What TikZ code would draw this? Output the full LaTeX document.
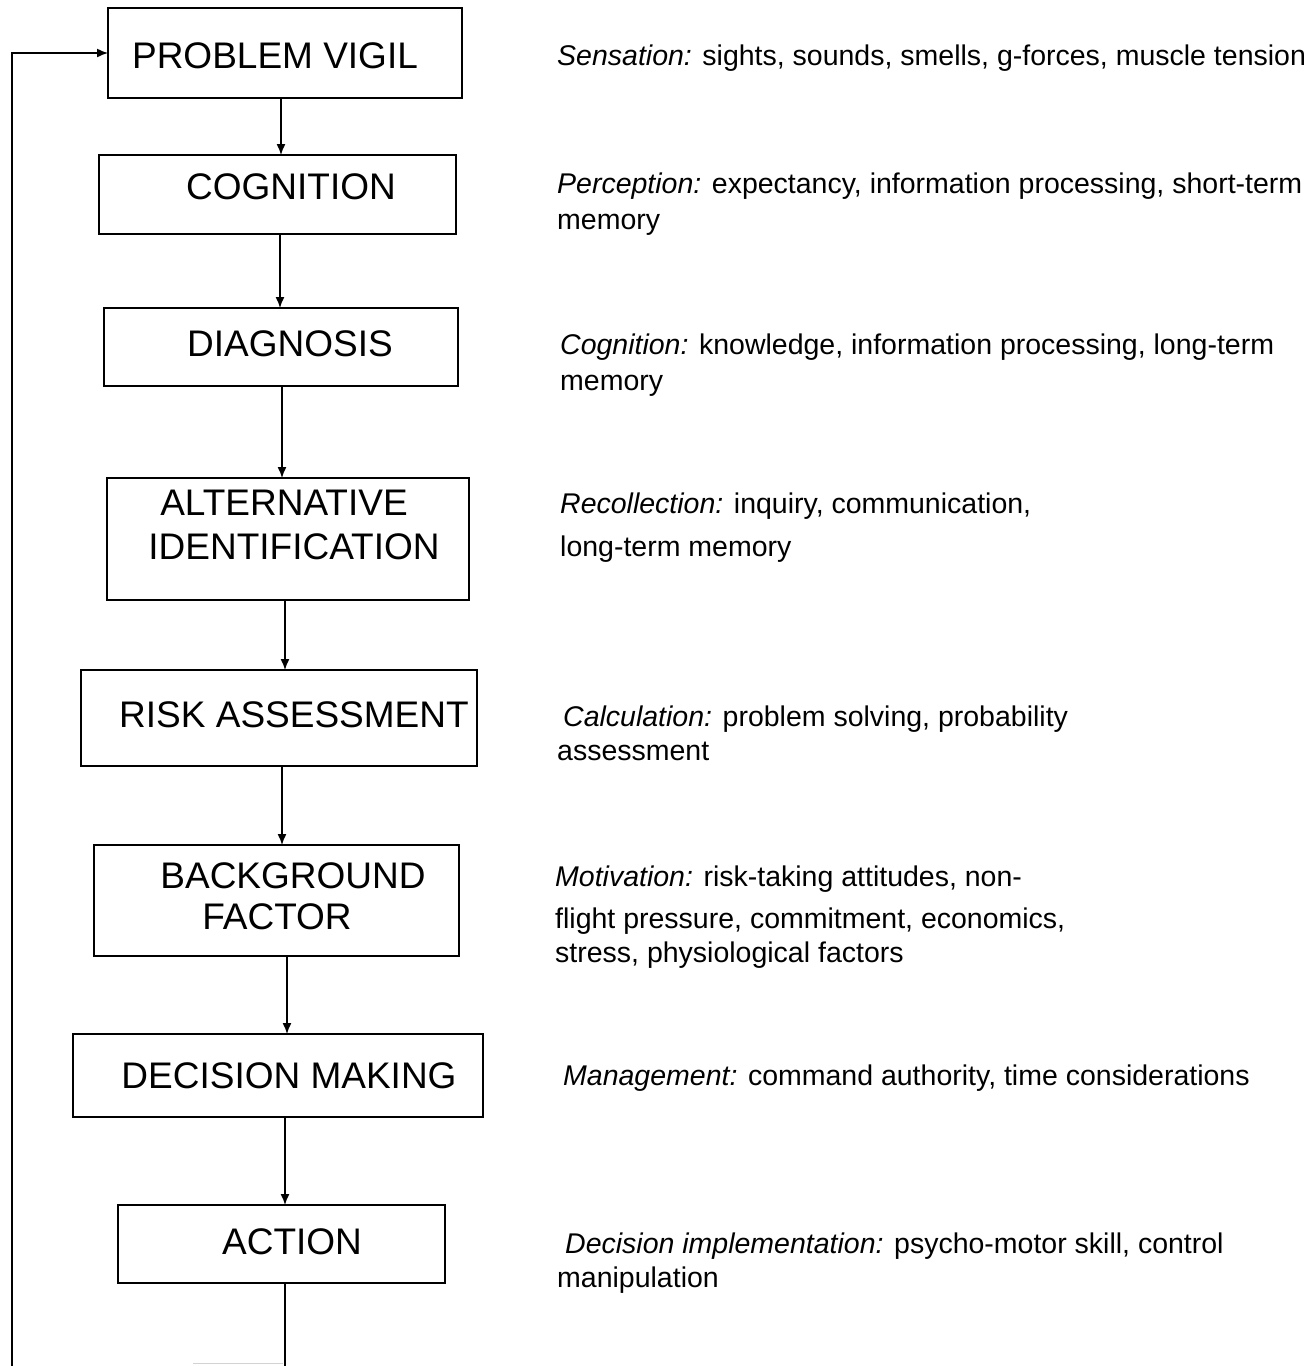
\documentclass[tikz,border=0pt]{standalone}
\usepackage{fontspec}
\setmainfont{Liberation Sans}
\usetikzlibrary{arrows.meta}
\tikzset{
  box/.style={draw, line width=1.6pt, inner sep=0pt, outer sep=0pt},
  boxtext/.style={font=\fontsize{37}{40}\selectfont, anchor=base, inner sep=0pt},
  desc/.style={font=\fontsize{28.5}{32}\selectfont, anchor=base west, inner sep=0pt},
  arr/.style={line width=1.4pt, -{Latex[length=11pt,width=9pt]}},
  plain/.style={line width=1.4pt}
}
\begin{document}
\begin{tikzpicture}[x=1pt,y=-1pt]
\useasboundingbox (0,0) rectangle (1315,1366);
% boxes
\node[box, minimum width=354pt, minimum height=90pt] (pv) at (285,53) {};
\node[box, minimum width=357pt, minimum height=79pt] (cog) at (277.5,194.5) {};
\node[box, minimum width=354pt, minimum height=78pt] (diag) at (281,347) {};
\node[box, minimum width=362pt, minimum height=122pt] (alt) at (288,539) {};
\node[box, minimum width=396pt, minimum height=96pt] (risk) at (279,718) {};
\node[box, minimum width=365pt, minimum height=111pt] (bg) at (276.5,900.5) {};
\node[box, minimum width=410pt, minimum height=83pt] (dec) at (278,1075.5) {};
\node[box, minimum width=327pt, minimum height=78pt] (act) at (281.5,1244) {};
% box labels
\node[boxtext] (tpv) at (275,68) {PROBLEM VIGIL};
\node[boxtext] (tcog) at (291,199) {COGNITION};
\node[boxtext] (tdiag) at (290,356) {DIAGNOSIS};
\node[boxtext] (talt1) at (284,515) {ALTERNATIVE};
\node[boxtext] (talt2) at (294,559) {IDENTIFICATION};
\node[boxtext] (trisk) at (294,727) {RISK ASSESSMENT};
\node[boxtext] (tbg1) at (293,888) {BACKGROUND};
\node[boxtext] (tbg2) at (277,929) {FACTOR};
\node[boxtext] (tdec) at (289,1088) {DECISION MAKING};
\node[boxtext] (tact) at (292,1254) {ACTION};
% connectors
\draw[arr] (pv.south -| 281,0) -- (cog.north -| 281,0);
\draw[arr] (cog.south -| 280,0) -- (diag.north -| 280,0);
\draw[arr] (diag.south -| 282,0) -- (alt.north -| 282,0);
\draw[arr] (alt.south -| 285,0) -- (risk.north -| 285,0);
\draw[arr] (risk.south -| 282,0) -- (bg.north -| 282,0);
\draw[arr] (bg.south -| 287,0) -- (dec.north -| 287,0);
\draw[arr] (dec.south -| 285,0) -- (act.north -| 285,0);
\coordinate (actout) at (285,1366);
\draw[plain] (act.south -| actout) -- (actout);
\coordinate (fb) at (12,1366);
\draw[arr] (fb) |- (pv.west);
\coordinate (nb1) at (193,1363);
\coordinate (nb2) at (283,1363);
\draw[gray!35, line width=1pt] (nb1) -- (nb2);
% descriptions
\node[desc] (d1) at (557,65) {{\itshape Sensation:} sights, sounds, smells, g-forces, muscle tension};
\node[desc] (d2a) at (557,193) {{\itshape Perception:} expectancy, information processing, short-term};
\node[desc] (d2b) at (557,229) {memory};
\node[desc] (d3a) at (560,354) {{\itshape Cognition:} knowledge, information processing, long-term};
\node[desc] (d3b) at (560,390) {memory};
\node[desc] (d4a) at (560,513) {{\itshape Recollection:} inquiry, communication,};
\node[desc] (d4b) at (560,556) {long-term memory};
\node[desc] (d5a) at (563,726) {{\itshape Calculation:} problem solving, probability};
\node[desc] (d5b) at (557,760) {assessment};
\node[desc] (d6a) at (555,886) {{\itshape Motivation:} risk-taking attitudes, non-};
\node[desc] (d6b) at (555,928) {flight pressure, commitment, economics,};
\node[desc] (d6c) at (555,962) {stress, physiological factors};
\node[desc] (d7) at (563,1085) {{\itshape Management:} command authority, time considerations};
\node[desc] (d8a) at (565,1253) {{\itshape Decision implementation:} psycho-motor skill, control};
\node[desc] (d8b) at (557,1287) {manipulation};
\end{tikzpicture}
\end{document}
